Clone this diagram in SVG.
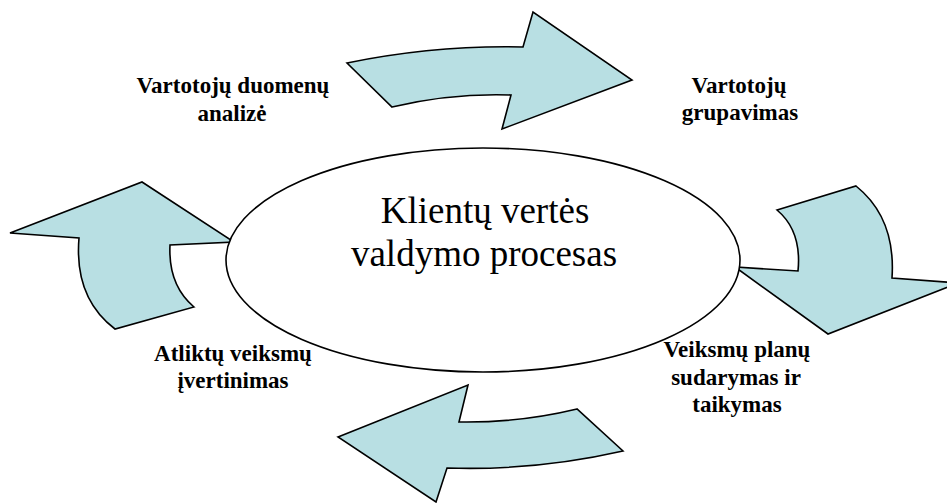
<svg xmlns="http://www.w3.org/2000/svg" width="947" height="503" viewBox="0 0 947 503">
  <style>
    .arrow { fill: #b8dfe3; stroke: #000; stroke-width: 1.6; stroke-linejoin: miter; }
    .hub { fill: #fff; stroke: #000; stroke-width: 1.6; }
    .hub-text { font-family: "Liberation Serif", "Times New Roman", serif; font-size: 37px; fill: #000; text-anchor: middle; }
    .step { font-family: "Liberation Serif", "Times New Roman", serif; font-size: 23px; font-weight: bold; fill: #000; text-anchor: middle; }
  </style>
  <rect width="947" height="503" fill="#fff"/>

  <!-- curved block arrows running clockwise round the cycle -->
  <g id="connectors">
    <path class="arrow" d="M347,63 Q435,45 523,47 L533,12 L632,80 L502,129 L511,95 Q451,93 392,107 Z"/>
    <path class="arrow" d="M777,210 L856,186 Q896,218 892,278 L958,283 L828,334 L735,267 L798,271 Q802,231 777,210 Z"/>
    <path class="arrow" d="M338,437 L468,385 L459,422 Q519,423 577,409 L623,451 Q535,471 447,468 L436,502 Z"/>
    <path class="arrow" d="M10,233 L142,182 L234,242 L170,245 Q168,285 194,307 L115,329 Q74,298 79,238 Z"/>
  </g>

  <g id="hub">
    <ellipse class="hub" cx="483" cy="260" rx="257" ry="112"/>
    <text class="hub-text" x="485" y="223">Klientų vertės</text>
    <text class="hub-text" x="484" y="266">valdymo procesas</text>
  </g>

  <g id="step-analysis">
    <text class="step" x="233" y="93">Vartotojų duomenų</text>
    <text class="step" x="232" y="121">analizė</text>
  </g>

  <g id="step-grouping">
    <text class="step" x="739" y="93">Vartotojų</text>
    <text class="step" x="740" y="120">grupavimas</text>
  </g>

  <g id="step-planning">
    <text class="step" x="737" y="357">Veiksmų planų</text>
    <text class="step" x="736" y="385">sudarymas ir</text>
    <text class="step" x="737" y="412">taikymas</text>
  </g>

  <g id="step-evaluation">
    <text class="step" x="233" y="361">Atliktų veiksmų</text>
    <text class="step" x="233" y="388">įvertinimas</text>
  </g>
</svg>
